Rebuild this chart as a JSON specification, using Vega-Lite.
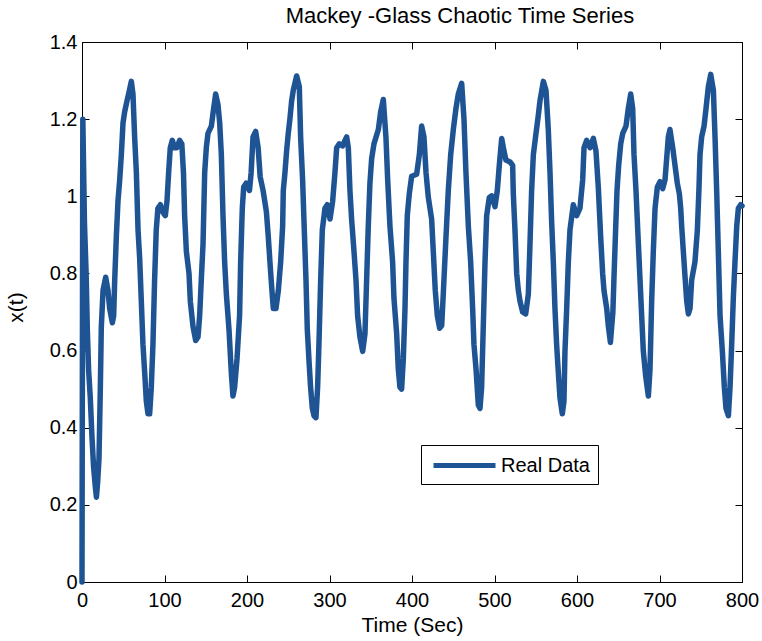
{
  "$schema": "https://vega.github.io/schema/vega-lite/v6.json",
  "autosize": "none",
  "width": 660,
  "height": 540,
  "padding": {"left": 82, "top": 42, "right": 20, "bottom": 59},
  "background": "white",
  "title": {"text": "Mackey -Glass Chaotic Time Series", "font": "Liberation Sans", "fontSize": 22, "fontWeight": "normal", "color": "black", "anchor": "middle", "dx": 48, "offset": 4},
  "config": {
    "view": {"stroke": "black", "strokeWidth": 1},
    "axis": {"domainColor": "black", "tickColor": "black", "labelColor": "black", "titleColor": "black", "labelFont": "Liberation Sans", "titleFont": "Liberation Sans", "labelFontSize": 20, "titleFontSize": 21, "titleFontWeight": "normal", "grid": false, "tickSize": -7, "labelFlush": false, "labelOverlap": false}
  },
  "data": {"values": [
    {"t": 0, "x": 0}, {"t": 1, "x": 1.2}, {"t": 3, "x": 0.93}, {"t": 5, "x": 0.8}, {"t": 6.5, "x": 0.65}, {"t": 8, "x": 0.55}, {"t": 10, "x": 0.48}, {"t": 12, "x": 0.38}, {"t": 14, "x": 0.3}, {"t": 16, "x": 0.25}, {"t": 17.5, "x": 0.22}, {"t": 19, "x": 0.26},
    {"t": 20.6, "x": 0.32}, {"t": 22.2, "x": 0.5}, {"t": 23.4, "x": 0.66}, {"t": 25.5, "x": 0.756}, {"t": 28.7, "x": 0.79}, {"t": 31.5, "x": 0.756}, {"t": 33.5, "x": 0.71}, {"t": 36.8, "x": 0.672}, {"t": 38.4, "x": 0.69}, {"t": 39.6, "x": 0.78},
    {"t": 41.6, "x": 0.895}, {"t": 43.6, "x": 0.987}, {"t": 45.7, "x": 1.043}, {"t": 47.7, "x": 1.108}, {"t": 49.7, "x": 1.19}, {"t": 51.7, "x": 1.219}, {"t": 54.5, "x": 1.247}, {"t": 57, "x": 1.27}, {"t": 59.8, "x": 1.298}, {"t": 61.8, "x": 1.265},
    {"t": 63.8, "x": 1.154}, {"t": 65.9, "x": 1.061}, {"t": 67.9, "x": 0.913}, {"t": 69.9, "x": 0.839}, {"t": 71.9, "x": 0.728}, {"t": 73.9, "x": 0.616}, {"t": 76, "x": 0.542}, {"t": 78, "x": 0.468}, {"t": 80, "x": 0.436}, {"t": 82, "x": 0.436},
    {"t": 84, "x": 0.505}, {"t": 86, "x": 0.616}, {"t": 88, "x": 0.783}, {"t": 90, "x": 0.913}, {"t": 92, "x": 0.969}, {"t": 95, "x": 0.978}, {"t": 98, "x": 0.959}, {"t": 101, "x": 0.95}, {"t": 103, "x": 0.987}, {"t": 105, "x": 1.061},
    {"t": 107, "x": 1.126}, {"t": 109.5, "x": 1.145}, {"t": 112, "x": 1.126}, {"t": 115, "x": 1.126}, {"t": 118.4, "x": 1.145}, {"t": 121, "x": 1.136}, {"t": 123, "x": 1.061}, {"t": 124.4, "x": 0.95}, {"t": 126.5, "x": 0.857}, {"t": 129.7, "x": 0.8},
    {"t": 131.3, "x": 0.728}, {"t": 134.5, "x": 0.663}, {"t": 137.8, "x": 0.626}, {"t": 140.6, "x": 0.635}, {"t": 142.6, "x": 0.69}, {"t": 144.6, "x": 0.783}, {"t": 146.7, "x": 0.876}, {"t": 148.7, "x": 1.061}, {"t": 150.7, "x": 1.126}, {"t": 152.7, "x": 1.163},
    {"t": 156.8, "x": 1.182}, {"t": 159.6, "x": 1.228}, {"t": 162, "x": 1.265}, {"t": 164.8, "x": 1.238}, {"t": 166.9, "x": 1.19}, {"t": 168.9, "x": 1.108}, {"t": 170.9, "x": 0.95}, {"t": 172.9, "x": 0.83}, {"t": 175, "x": 0.746}, {"t": 178.2, "x": 0.654},
    {"t": 181, "x": 0.542}, {"t": 183, "x": 0.482}, {"t": 185, "x": 0.505}, {"t": 187.9, "x": 0.579}, {"t": 191, "x": 0.69}, {"t": 192.3, "x": 0.83}, {"t": 194.3, "x": 0.969}, {"t": 196, "x": 1.024}, {"t": 199, "x": 1.034}, {"t": 203, "x": 1.015},
    {"t": 205, "x": 1.061}, {"t": 207.3, "x": 1.154}, {"t": 210.5, "x": 1.168}, {"t": 213.5, "x": 1.126}, {"t": 216, "x": 1.05}, {"t": 219.5, "x": 1.015}, {"t": 223.5, "x": 0.96}, {"t": 225.8, "x": 0.895}, {"t": 227.8, "x": 0.83}, {"t": 229.9, "x": 0.765},
    {"t": 231.9, "x": 0.709}, {"t": 235.1, "x": 0.709}, {"t": 238, "x": 0.756}, {"t": 240.8, "x": 0.83}, {"t": 243.2, "x": 0.922}, {"t": 244, "x": 1.015}, {"t": 246, "x": 1.061}, {"t": 248, "x": 1.117}, {"t": 250, "x": 1.163}, {"t": 252, "x": 1.2},
    {"t": 254.1, "x": 1.247}, {"t": 256.1, "x": 1.275}, {"t": 260.2, "x": 1.312}, {"t": 263.4, "x": 1.284}, {"t": 265, "x": 1.154}, {"t": 267.4, "x": 1.043}, {"t": 269, "x": 0.941}, {"t": 271.5, "x": 0.783}, {"t": 273.1, "x": 0.654}, {"t": 275.5, "x": 0.561},
    {"t": 277.1, "x": 0.505}, {"t": 279.2, "x": 0.45}, {"t": 281.2, "x": 0.431}, {"t": 283.6, "x": 0.426}, {"t": 285.6, "x": 0.505}, {"t": 287.2, "x": 0.616}, {"t": 289.3, "x": 0.783}, {"t": 291.3, "x": 0.913}, {"t": 294.5, "x": 0.969}, {"t": 297.3, "x": 0.978},
    {"t": 300.6, "x": 0.941}, {"t": 303.8, "x": 0.987}, {"t": 306.6, "x": 1.061}, {"t": 308.7, "x": 1.126}, {"t": 311.9, "x": 1.136}, {"t": 315.9, "x": 1.131}, {"t": 320.8, "x": 1.154}, {"t": 322.8, "x": 1.126}, {"t": 324.8, "x": 1.015}, {"t": 326.8, "x": 0.941},
    {"t": 329.7, "x": 0.857}, {"t": 332.1, "x": 0.783}, {"t": 334.1, "x": 0.69}, {"t": 336.9, "x": 0.635}, {"t": 340.2, "x": 0.598}, {"t": 343, "x": 0.644}, {"t": 345, "x": 0.783}, {"t": 347, "x": 0.922}, {"t": 349, "x": 1.034}, {"t": 351.1, "x": 1.098},
    {"t": 353.9, "x": 1.136}, {"t": 359.2, "x": 1.173}, {"t": 362, "x": 1.219}, {"t": 365.2, "x": 1.251}, {"t": 368.4, "x": 1.154}, {"t": 370.5, "x": 1.043}, {"t": 373.3, "x": 0.922}, {"t": 376.5, "x": 0.83}, {"t": 378.1, "x": 0.737}, {"t": 381.4, "x": 0.644},
    {"t": 383.4, "x": 0.552}, {"t": 385.4, "x": 0.505}, {"t": 387.4, "x": 0.5}, {"t": 389.5, "x": 0.579}, {"t": 391.5, "x": 0.709}, {"t": 392.7, "x": 0.83}, {"t": 394.3, "x": 0.95}, {"t": 396.7, "x": 1.006}, {"t": 399.6, "x": 1.052}, {"t": 405.6, "x": 1.057},
    {"t": 408.9, "x": 1.108}, {"t": 411.7, "x": 1.182}, {"t": 414.5, "x": 1.154}, {"t": 417, "x": 1.061}, {"t": 419.8, "x": 0.997}, {"t": 423.8, "x": 0.941}, {"t": 425.8, "x": 0.857}, {"t": 428.2, "x": 0.756}, {"t": 430.7, "x": 0.69}, {"t": 433.5, "x": 0.658},
    {"t": 436, "x": 0.665}, {"t": 438, "x": 0.75}, {"t": 441.2, "x": 0.895}, {"t": 444, "x": 1.015}, {"t": 446.9, "x": 1.108}, {"t": 450.1, "x": 1.173}, {"t": 453.3, "x": 1.228}, {"t": 456.1, "x": 1.265}, {"t": 460.2, "x": 1.293}, {"t": 463, "x": 1.2},
    {"t": 465.4, "x": 1.061}, {"t": 468.3, "x": 0.922}, {"t": 471.1, "x": 0.83}, {"t": 473.5, "x": 0.709}, {"t": 475.1, "x": 0.616}, {"t": 477.6, "x": 0.552}, {"t": 480.4, "x": 0.459}, {"t": 482.4, "x": 0.45}, {"t": 484.4, "x": 0.505}, {"t": 486.4, "x": 0.663},
    {"t": 488.5, "x": 0.83}, {"t": 490.5, "x": 0.95}, {"t": 493.7, "x": 0.997}, {"t": 496.5, "x": 1.001}, {"t": 500.6, "x": 0.973}, {"t": 503.4, "x": 1.015}, {"t": 505.8, "x": 1.08}, {"t": 508.7, "x": 1.15}, {"t": 511.5, "x": 1.117}, {"t": 513.9, "x": 1.094},
    {"t": 518.8, "x": 1.089}, {"t": 522, "x": 1.08}, {"t": 522.8, "x": 1.006}, {"t": 524.8, "x": 0.913}, {"t": 526.9, "x": 0.8}, {"t": 528.9, "x": 0.756}, {"t": 530.9, "x": 0.728}, {"t": 534.1, "x": 0.7}, {"t": 537.8, "x": 0.695}, {"t": 541, "x": 0.746},
    {"t": 543, "x": 0.876}, {"t": 545, "x": 1.015}, {"t": 547.1, "x": 1.108}, {"t": 550.3, "x": 1.163}, {"t": 553.1, "x": 1.21}, {"t": 555.1, "x": 1.247}, {"t": 559.2, "x": 1.298}, {"t": 562.4, "x": 1.275}, {"t": 565.2, "x": 1.173}, {"t": 567.3, "x": 1.061},
    {"t": 569.3, "x": 0.932}, {"t": 571.3, "x": 0.83}, {"t": 573.3, "x": 0.709}, {"t": 575.3, "x": 0.616}, {"t": 577.4, "x": 0.542}, {"t": 579.4, "x": 0.477}, {"t": 582.2, "x": 0.436}, {"t": 584.2, "x": 0.468}, {"t": 585.4, "x": 0.598}, {"t": 587.5, "x": 0.709},
    {"t": 589.5, "x": 0.83}, {"t": 591.5, "x": 0.913}, {"t": 595.5, "x": 0.978}, {"t": 599.6, "x": 0.95}, {"t": 603.6, "x": 0.969}, {"t": 606.9, "x": 1.043}, {"t": 608.5, "x": 1.126}, {"t": 611.7, "x": 1.145}, {"t": 615.7, "x": 1.126}, {"t": 619.8, "x": 1.15},
    {"t": 623, "x": 1.117}, {"t": 625.8, "x": 1.024}, {"t": 628.7, "x": 0.895}, {"t": 631.1, "x": 0.8}, {"t": 632.7, "x": 0.756}, {"t": 636, "x": 0.709}, {"t": 638, "x": 0.663}, {"t": 640.5, "x": 0.621}, {"t": 643.5, "x": 0.7}, {"t": 645, "x": 0.8},
    {"t": 646.6, "x": 0.9}, {"t": 648.5, "x": 1.015}, {"t": 650.5, "x": 1.08}, {"t": 653, "x": 1.136}, {"t": 655.4, "x": 1.163}, {"t": 659.4, "x": 1.182}, {"t": 662.2, "x": 1.228}, {"t": 665.1, "x": 1.265}, {"t": 667.5, "x": 1.228}, {"t": 669.1, "x": 1.108},
    {"t": 671.5, "x": 1.015}, {"t": 674.4, "x": 0.876}, {"t": 676.4, "x": 0.783}, {"t": 678.4, "x": 0.69}, {"t": 680.4, "x": 0.598}, {"t": 683.3, "x": 0.533}, {"t": 686.5, "x": 0.482}, {"t": 688.5, "x": 0.552}, {"t": 690.5, "x": 0.728}, {"t": 692.5, "x": 0.857},
    {"t": 694.6, "x": 0.969}, {"t": 697.4, "x": 1.024}, {"t": 700.6, "x": 1.038}, {"t": 703.9, "x": 1.02}, {"t": 706.7, "x": 1.043}, {"t": 708.7, "x": 1.098}, {"t": 710.7, "x": 1.154}, {"t": 712.7, "x": 1.173}, {"t": 716, "x": 1.126}, {"t": 718.8, "x": 1.08},
    {"t": 721.6, "x": 1.034}, {"t": 724.1, "x": 1.006}, {"t": 725.7, "x": 0.969}, {"t": 726.9, "x": 0.922}, {"t": 728.9, "x": 0.857}, {"t": 730.9, "x": 0.793}, {"t": 733, "x": 0.728}, {"t": 735, "x": 0.695}, {"t": 737, "x": 0.709}, {"t": 739, "x": 0.783},
    {"t": 743, "x": 0.83}, {"t": 745.9, "x": 0.913}, {"t": 747.9, "x": 1.024}, {"t": 749.1, "x": 1.108}, {"t": 751.1, "x": 1.154}, {"t": 754, "x": 1.182}, {"t": 756.4, "x": 1.228}, {"t": 759.2, "x": 1.284}, {"t": 762.1, "x": 1.316}, {"t": 765.3, "x": 1.275},
    {"t": 767.3, "x": 1.154}, {"t": 769.3, "x": 1.015}, {"t": 771.3, "x": 0.857}, {"t": 773.4, "x": 0.69}, {"t": 776.2, "x": 0.598}, {"t": 778.6, "x": 0.505}, {"t": 780.6, "x": 0.45}, {"t": 783.5, "x": 0.431}, {"t": 785.5, "x": 0.505}, {"t": 787.5, "x": 0.616},
    {"t": 789.5, "x": 0.737}, {"t": 791.5, "x": 0.83}, {"t": 793.6, "x": 0.922}, {"t": 795.6, "x": 0.969}, {"t": 798.4, "x": 0.978}, {"t": 800, "x": 0.975}
  ]},
  "layer": [
    {
      "mark": {"type": "line", "strokeWidth": 5.5, "strokeCap": "round", "strokeJoin": "round"},
      "encoding": {
        "x": {"field": "t", "type": "quantitative", "scale": {"domain": [0, 800], "nice": false}, "axis": {"title": "Time (Sec)", "values": [0, 100, 200, 300, 400, 500, 600, 700, 800], "labelPadding": 15, "titlePadding": 4}},
        "y": {"field": "x", "type": "quantitative", "scale": {"domain": [0, 1.4], "nice": false}, "axis": {"title": "x(t)", "values": [0, 0.2, 0.4, 0.6, 0.8, 1, 1.2, 1.4], "format": "~g", "labelPadding": 12, "titleX": -56, "titleY": 265}},
        "color": {"datum": "Real Data", "type": "nominal", "scale": {"range": ["#1f5494"]}, "legend": {"title": null, "orient": "none", "legendX": 339, "legendY": 403, "symbolType": "M-0.8,0L5.4,0", "symbolSize": 400, "symbolStrokeWidth": 5, "labelFont": "Liberation Sans", "labelFontSize": 20, "labelColor": "black", "labelOffset": 47, "padding": 8, "strokeColor": "black", "fillColor": "white"}}
      }
    },
    {
      "mark": {"type": "line", "strokeOpacity": 0},
      "encoding": {
        "x": {"field": "t", "type": "quantitative", "axis": {"orient": "top", "labels": false, "title": null, "values": [0, 100, 200, 300, 400, 500, 600, 700, 800]}},
        "y": {"field": "x", "type": "quantitative", "axis": {"orient": "right", "labels": false, "title": null, "values": [0, 0.2, 0.4, 0.6, 0.8, 1, 1.2, 1.4]}}
      }
    }
  ],
  "resolve": {"axis": {"x": "independent", "y": "independent"}}
}
